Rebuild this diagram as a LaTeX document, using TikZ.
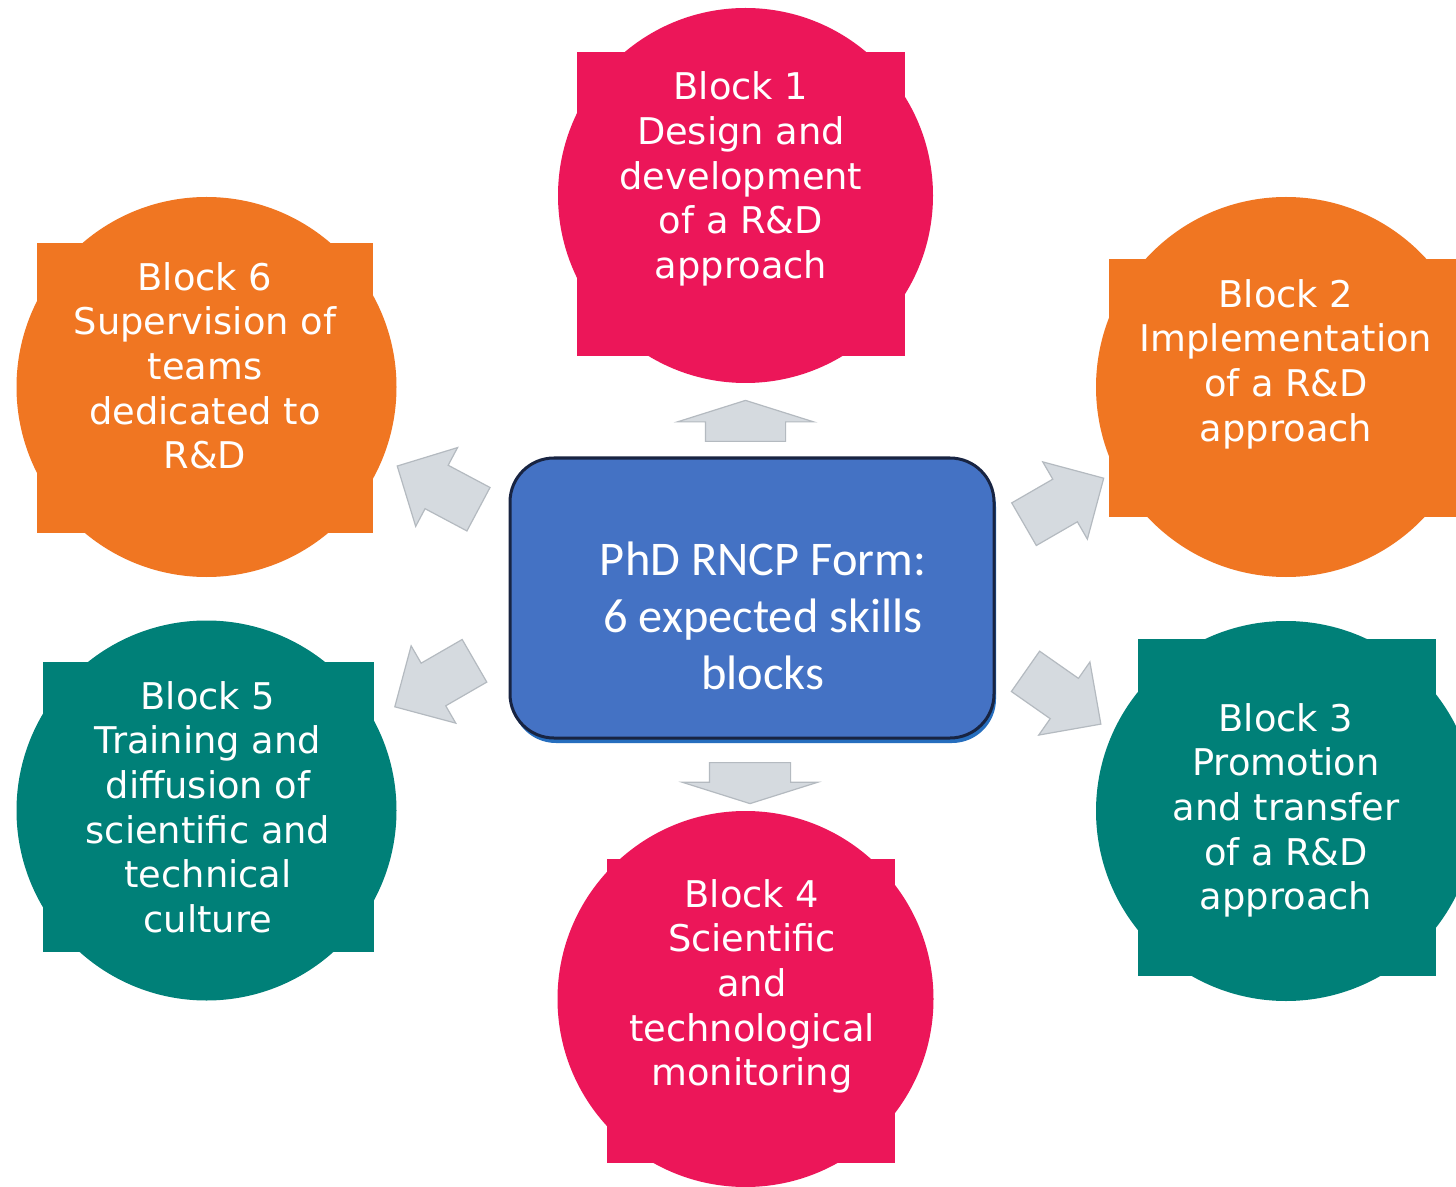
\documentclass[tikz,border=0pt]{standalone}
\usepackage{fontspec}
\usetikzlibrary{shapes.geometric, shapes.arrows, shadows}
\newfontfamily\verdanaish{DejaVu Sans}
\newfontfamily\calibrish{Carlito}
\newcommand{\blockfont}{\verdanaish\fontsize{18.4}{22.3}\selectfont}
\newcommand{\corefont}{\calibrish\fontsize{24.2}{28.5}\selectfont}
\definecolor{rdpink}{RGB}{236,22,89}
\definecolor{rdorange}{RGB}{240,118,34}
\definecolor{rdteal}{RGB}{0,128,120}
\definecolor{coreblue}{RGB}{68,114,196}
\definecolor{coreline}{RGB}{24,36,66}
\definecolor{coreshadow}{RGB}{38,110,190}
\definecolor{arrowfill}{RGB}{213,218,223}
\definecolor{arrowline}{RGB}{180,186,192}
\tikzstyle{disc} = [circle, inner sep=0pt]
\tikzstyle{tile} = [rectangle, inner sep=0pt]
\tikzstyle{blocktext} = [text=white, align=center, inner sep=0pt, anchor=north, font=\blockfont]
\tikzstyle{core} = [rectangle, rounded corners=22pt, minimum width=242pt, minimum height=140pt, draw=coreline, line width=1.5pt, fill=coreblue,
        general shadow={fill=coreshadow, shadow xshift=1pt, shadow yshift=-2.5pt}]
\tikzstyle{fatarrow} = [single arrow, draw=arrowline, fill=arrowfill, line width=0.6pt, inner xsep=0pt, anchor=tail]
\tikzstyle{flat} = [fatarrow, inner ysep=19.75pt, minimum height=20.5pt, minimum width=67.5pt, single arrow head extend=14pt, single arrow tip angle=145]
\tikzstyle{slant} = [fatarrow, inner ysep=12pt, minimum height=46pt, minimum width=44pt, single arrow head extend=10pt, single arrow tip angle=90]

\begin{document}
\begin{tikzpicture}[x=0.5pt, y=-0.5pt]
\path[use as bounding box, fill=white] (0,0) rectangle (1456,1187);

% centre box
\node (rncp_form) [core] at (752,598) {};
\node (rncp_txt) [text=white, align=center, inner sep=0pt, anchor=north, font=\corefont] at (763,541) {PhD RNCP Form:\\6 expected skills\\blocks};

% six blocks
\node (design) [disc, minimum size=187.5pt, fill=rdpink] at (745.5,195.5) {};
\node (design_sq) [tile, minimum width=164pt, minimum height=152pt, fill=rdpink] at (741,204) {};
\node (design_txt) [blocktext] at (741,71.5) {Block 1\\Design and\\development\\of a R\&D\\approach};

\node (implem) [disc, minimum size=190pt, fill=rdorange] at (1286,387) {};
\node (implem_sq) [tile, minimum width=177pt, minimum height=129pt, fill=rdorange] at (1286,388) {};
\node (implem_txt) [blocktext] at (1286,279) {Block 2\\Implementation\\of a R\&D\\approach};

\node (promo) [disc, minimum size=190pt, fill=rdteal] at (1286,811) {};
\node (promo_sq) [tile, minimum width=149pt, minimum height=168.5pt, fill=rdteal] at (1287,807.5) {};
\node (promo_txt) [blocktext] at (1286,703) {Block 3\\Promotion\\and transfer\\of a R\&D\\approach};

\node (monitor) [disc, minimum size=188pt, fill=rdpink] at (745.5,999) {};
\node (monitor_sq) [tile, minimum width=144pt, minimum height=152pt, fill=rdpink] at (751,1011) {};
\node (monitor_txt) [blocktext] at (752,879) {Block 4\\Scientific\\and\\technological\\monitoring};

\node (training) [disc, minimum size=190pt, fill=rdteal] at (206.5,810.5) {};
\node (training_sq) [tile, minimum width=165.5pt, minimum height=145pt, fill=rdteal] at (208.5,807) {};
\node (training_txt) [blocktext] at (208,681) {Block 5\\Training and\\diffusion of\\scientific and\\technical\\culture};

\node (supervision) [disc, minimum size=190pt, fill=rdorange] at (206.5,387) {};
\node (supervision_sq) [tile, minimum width=168pt, minimum height=145pt, fill=rdorange] at (205,388) {};
\node (supervision_txt) [blocktext] at (205,262) {Block 6\\Supervision of\\teams\\dedicated to\\R\&D};

% arrows out of the centre box, placed by their tails
\node (to_design) [flat, rotate=90] at (745.5,442) {};
\node (to_monitor) [flat, inner ysep=20pt, minimum width=67pt, single arrow head extend=13.5pt, rotate=-90] at (750,762) {};
\node (to_implem) [slant, rotate=30] at (1023.5,524.5) {};
\node (to_promo) [slant, rotate=-35] at (1025,671) {};
\node (to_training) [slant, rotate=210] at (475,660.5) {};
\node (to_supervision) [slant, rotate=152] at (479,509.5) {};

\end{tikzpicture}
\end{document}
